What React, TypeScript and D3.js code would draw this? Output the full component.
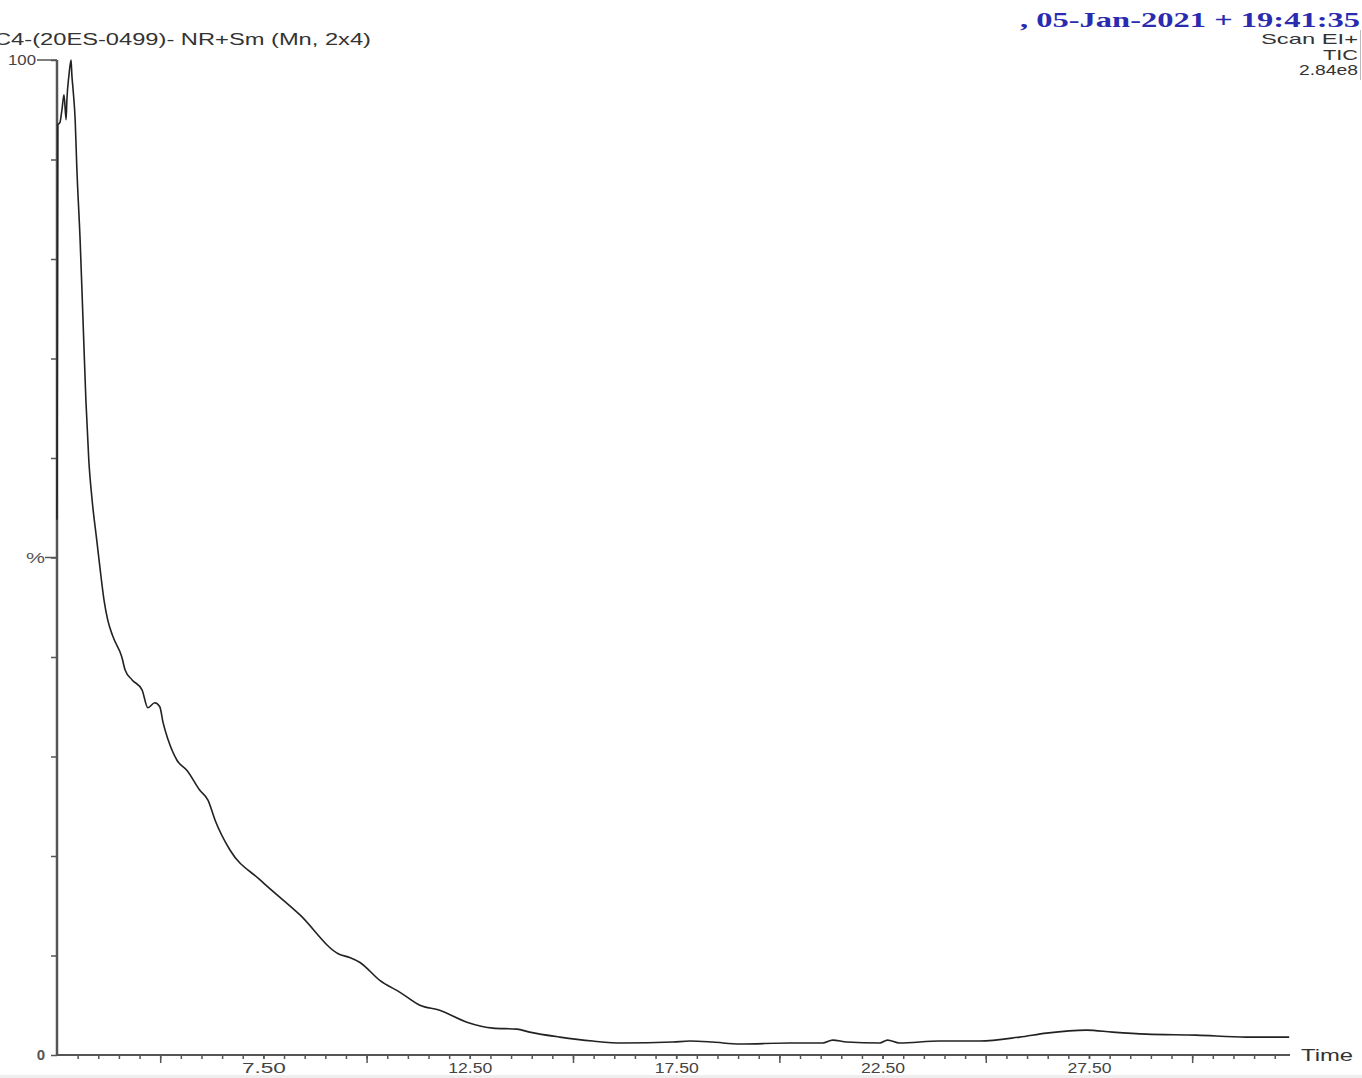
import React, {useEffect, useRef} from "react";
import * as d3 from "d3";

// retention time (min) and relative intensity (%)
const times = [
    2.50, 2.52, 2.57, 2.62, 2.67, 2.72, 2.74, 2.79, 2.84, 2.86, 2.89, 2.94, 2.98,
    3.06, 3.13, 3.20, 3.27, 3.35, 3.47, 3.54, 3.64, 3.73, 3.86, 4.07, 4.15, 4.32,
    4.56, 4.70, 4.87, 4.99, 5.07, 5.19, 5.41, 5.65, 5.96, 6.16, 6.33, 6.69, 7.42,
    8.38, 9.35, 9.59, 9.84, 10.32, 10.81, 11.29, 11.77, 12.43, 13.06, 13.64, 13.95,
    14.68, 15.48, 16.20, 17.42, 17.83, 18.38, 19.04, 20.25, 21.05, 21.29, 21.63,
    22.43, 22.62, 22.91, 23.88, 24.85, 25.82, 26.47, 27.44, 28.07, 28.89, 30.10,
    31.31, 32.35
];
const intensity = [
    53.8, 93.5, 93.7, 95.0, 96.5, 94.0, 96.0, 98.5, 100, 98.5, 97.0, 94.0, 89.2,
    81.9, 73.9, 65.8, 59.8, 55.8, 51.5, 49.0, 45.7, 43.7, 42.0, 40.0, 38.7, 37.7,
    36.7, 34.9, 35.4, 35.0, 33.4, 31.7, 29.6, 28.6, 26.6, 25.6, 23.6, 20.6, 17.6,
    14.1, 10.1, 9.8, 9.3, 7.5, 6.3, 5.0, 4.5, 3.3, 2.7, 2.6, 2.3,
    1.8, 1.4, 1.2, 1.3, 1.4, 1.3, 1.1, 1.2, 1.2, 1.5, 1.3,
    1.2, 1.5, 1.2, 1.4, 1.4, 1.8, 2.2, 2.5, 2.3, 2.1, 2.0,
    1.8, 1.8
];

const minorTicks = d3.range(3, 32.01, 0.5);
const majorTicks = [5, 10, 15, 20, 25, 30];
const labelTicks = [7.5, 12.5, 17.5, 22.5, 27.5];
const yTicks = d3.range(0, 101, 10);

const title = "C4-(20ES-0499)- NR+Sm (Mn, 2x4)";
const dateText = ", 05-Jan-2021 + 19:41:35";
const infoLines = ["Scan EI+", "TIC", "2.84e8"];
const infoWidths = [97, 35, 59];

export default function App()
{
    const ref = useRef<SVGSVGElement>(null);

    useEffect(() =>
    {
        const svg = d3.select(ref.current);
        svg.selectAll("*").remove();

        const width = 1362;
        const height = 1078;
        const left = 57, right = 1290, top = 60, bottom = 1055;

        svg.attr("width", width).attr("height", height);

        svg.append("rect")
            .attr("x", 0).attr("y", 1075).attr("width", width).attr("height", 3)
            .attr("fill", "#eee");

        const x = d3.scaleLinear().domain([2.5, 32.37]).range([left, right]);
        const y = d3.scaleLinear().domain([0, 100]).range([bottom, top]);

        const data = times.map((t, i) => ({t, v: intensity[i]}));

        const font = "'Liberation Sans', Arial, sans-serif";

        // x axis
        const gx = svg.append("g").attr("transform", `translate(0,${bottom})`);
        gx.append("g")
            .call(d3.axisBottom(x).tickValues(minorTicks).tickSize(4).tickFormat(() => ""))
            .call((g) => g.select(".domain").remove());
        gx.append("g")
            .call(d3.axisBottom(x).tickValues(majorTicks).tickSize(8).tickFormat(() => ""))
            .call((g) => g.select(".domain").remove());
        gx.append("g")
            .call(d3.axisBottom(x).tickValues(labelTicks).tickSize(4).tickPadding(3)
                .tickFormat((d) => d3.format(".2f")(d as number)))
            .call((g) => g.select(".domain").remove())
            .selectAll("text")
            .attr("textLength", 44)
            .attr("lengthAdjust", "spacingAndGlyphs")
            .style("font-family", font)
            .style("font-size", "15px")
            .style("fill", "#444");
        gx.selectAll("line").attr("stroke", "#555").attr("stroke-width", 1.5);
        gx.append("line")
            .attr("x1", left).attr("x2", right)
            .attr("stroke", "#555").attr("stroke-width", 2);

        // y axis
        const gy = svg.append("g").attr("transform", `translate(${left},0)`);
        gy.call(d3.axisLeft(y).tickValues(yTicks).tickSize(6)
            .tickFormat((d) => (d === 0 ? "0" : "")))
            .call((g) => g.select(".domain").remove());
        gy.selectAll("line").attr("stroke", "#555").attr("stroke-width", 1.5);
        gy.selectAll("text")
            .attr("x", -12)
            .style("font-family", font)
            .style("font-size", "15px")
            .style("font-weight", "bold")
            .style("fill", "#555");
        gy.append("line")
            .attr("y1", top).attr("y2", bottom)
            .attr("stroke", "#555").attr("stroke-width", 2.5);
        gy.append("line")
            .attr("x1", -20).attr("x2", 0)
            .attr("y1", y(100)).attr("y2", y(100))
            .attr("stroke", "#555").attr("stroke-width", 1.5);
        gy.append("line")
            .attr("x1", -12).attr("x2", 0)
            .attr("y1", y(50)).attr("y2", y(50))
            .attr("stroke", "#555").attr("stroke-width", 1.5);
        gy.append("text")
            .attr("x", -21).attr("y", y(100) + 5)
            .attr("text-anchor", "end")
            .attr("textLength", 28).attr("lengthAdjust", "spacingAndGlyphs")
            .style("font-family", font).style("font-size", "14px").style("fill", "#444")
            .text("100");
        gy.append("text")
            .attr("x", -12).attr("y", y(50) + 5)
            .attr("text-anchor", "end")
            .attr("textLength", 19).attr("lengthAdjust", "spacingAndGlyphs")
            .style("font-family", font).style("font-size", "14px").style("fill", "#555")
            .text("%");

        svg.append("text")
            .attr("x", right + 11).attr("y", bottom + 6)
            .attr("textLength", 52).attr("lengthAdjust", "spacingAndGlyphs")
            .style("font-family", font).style("font-size", "16px").style("fill", "#333")
            .text("Time");

        // trace
        const line = d3.line<{t: number; v: number}>()
            .x((d) => x(d.t))
            .y((d) => y(d.v))
            .curve(d3.curveMonotoneX);

        svg.append("path")
            .datum(data)
            .attr("d", line)
            .attr("fill", "none")
            .attr("stroke", "#222")
            .attr("stroke-width", 1.6)
            .attr("stroke-linejoin", "round");

        // header
        svg.append("text")
            .attr("x", -6).attr("y", 45)
            .attr("textLength", 377).attr("lengthAdjust", "spacingAndGlyphs")
            .style("font-family", font).style("font-size", "16px").style("fill", "#333")
            .text(title);

        svg.append("text")
            .attr("x", 1020).attr("y", 27)
            .attr("textLength", 340).attr("lengthAdjust", "spacingAndGlyphs")
            .style("font-family", "'Liberation Serif', 'Times New Roman', serif")
            .style("font-size", "22px").style("font-weight", "bold").style("fill", "#2b2bb0")
            .text(dateText);

        infoLines.forEach((s, i) =>
        {
            svg.append("text")
                .attr("x", 1358 - infoWidths[i]).attr("y", 44 + i * 15.5)
                .attr("textLength", infoWidths[i]).attr("lengthAdjust", "spacingAndGlyphs")
                .style("font-family", font).style("font-size", "14.5px").style("fill", "#333")
                .text(s);
        });

        svg.append("line")
            .attr("x1", 1360.5).attr("x2", 1360.5)
            .attr("y1", 30).attr("y2", 80)
            .attr("stroke", "#bbb");
    }, []);

    return (
        <svg ref={ref} style={{position: "absolute", left: 0, top: 0, background: "#fff"}}></svg>
    );
}
